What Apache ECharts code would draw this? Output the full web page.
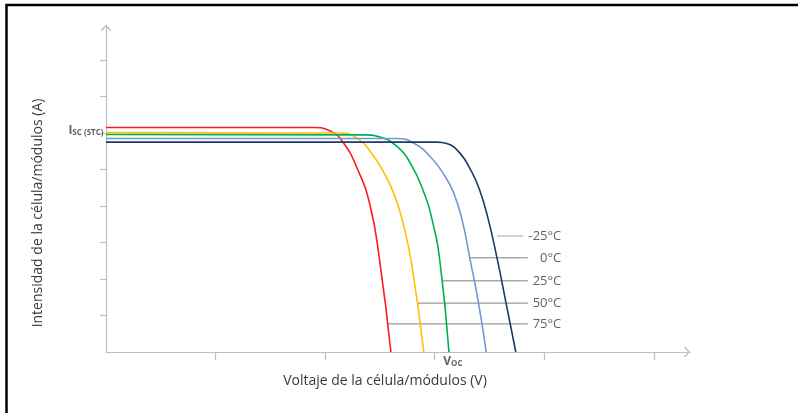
<!DOCTYPE html>
<html>
<head>
<meta charset="utf-8">
<script src="https://cdn.jsdelivr.net/npm/echarts@6/dist/echarts.min.js"></script>
<style>
  html, body { margin: 0; padding: 0; background: #fff; }
  #chart { width: 798px; height: 413px; }
</style>
</head>
<body>
<div id="chart"></div>
<script>
// Curvas I-V para distintas temperaturas (unidades arbitrarias: x = tensión, y = intensidad)
const curveRed = [
  [0, 6.15], [1.89, 6.15], [2.05, 6.05], [2.16, 5.76], [2.29, 5.05],
  [2.41, 4.02], [2.50, 2.45], [2.60, 0]
]
const curveYellow = [
  [0, 6.01], [2.14, 6.0], [2.30, 5.84], [2.42, 5.46], [2.53, 4.95],
  [2.63, 4.32], [2.71, 3.55], [2.79, 2.40], [2.90, 0]
]
const curveGreen = [
  [0, 5.96], [2.35, 5.95], [2.50, 5.89], [2.66, 5.62], [2.78, 5.16],
  [2.89, 4.46], [2.98, 3.58], [3.05, 2.42], [3.13, 0]
]
const curveLightBlue = [
  [0, 5.85], [2.66, 5.85], [2.81, 5.72], [2.96, 5.35], [3.08, 4.88],
  [3.17, 4.38], [3.25, 3.62], [3.32, 2.58], [3.40, 1.34], [3.47, 0]
]
const curveDarkBlue = [
  [0, 5.75], [3.02, 5.75], [3.11, 5.71], [3.23, 5.45], [3.33, 4.98],
  [3.41, 4.44], [3.49, 3.62], [3.57, 2.56], [3.65, 1.36], [3.74, 0]
]

// Etiquetas de temperatura y sus líneas guía
const tempLabels = ['-25°C', '0°C', '25°C', '50°C', '75°C']
const leaderY = [3.18, 2.58, 1.95, 1.34, 0.77]
const leaderStartX = [3.57, 3.32, 3.07, 2.84, 2.57]
const leaderEndX = [3.81, 3.85, 3.85, 3.85, 3.85]
const labelRightX = 4.16

// Marcas de ejes
const xTicks = [1, 2, 3, 4, 5]
const yTicks = [1, 2, 3, 4, 5, 6, 7, 8]
const iscValue = 6.06
const vocValue = 3.13

const chart = echarts.init(document.getElementById('chart'))

const FONT = 'Open Sans'
const AXIS_COLOR = '#bfbfbf'
const TEXT_COLOR = '#3a3a3a'
const chevron = 'path://M0,5 L5.5,0 L11,5 L10,6 L5.5,2 L1,6 Z'

const curveSeries = [
  { data: curveRed, color: '#ff1a1a' },
  { data: curveYellow, color: '#ffc000' },
  { data: curveGreen, color: '#00b050' },
  { data: curveLightBlue, color: '#6f9ad6' },
  { data: curveDarkBlue, color: '#1f3a68' }
].map(c => ({
  type: 'line',
  data: c.data,
  symbol: 'none',
  smooth: 0.5,
  silent: true,
  lineStyle: { color: c.color, width: 1.6 },
  z: 3
}))

const leaderSeries = tempLabels.map((t, i) => ({
  type: 'line',
  data: [[leaderStartX[i], leaderY[i]], [leaderEndX[i], leaderY[i]]],
  symbol: 'none',
  silent: true,
  lineStyle: { color: i === 0 ? '#a6a6a6' : '#7f7f7f', width: 1 },
  z: 2
}))

const subRich = {
  a: { fontFamily: FONT, fontWeight: 'bold', fontSize: 12, color: TEXT_COLOR, verticalAlign: 'bottom' },
  b: { fontFamily: FONT, fontWeight: 'bold', fontSize: 8, color: TEXT_COLOR, verticalAlign: 'bottom', padding: [3, 0, 0, 0] }
}

const labelSeries = {
  type: 'scatter',
  symbolSize: 1,
  silent: true,
  itemStyle: { color: 'transparent' },
  data: tempLabels.map((t, i) => ({
    value: [labelRightX, leaderY[i]],
    label: {
      show: true,
      position: 'left',
      distance: 0,
      formatter: t,
      color: TEXT_COLOR,
      fontFamily: FONT,
      fontSize: 13
    }
  })).concat([
    {
      value: [0, iscValue],
      label: { show: true, position: 'left', distance: 2, formatter: '{a|I}{b|SC (STC)}', rich: subRich }
    },
    {
      value: [vocValue, 0],
      label: { show: true, position: 'bottom', distance: 3, offset: [4, 0], formatter: '{a|V}{b|OC}', rich: subRich }
    }
  ]),
  z: 4
}

chart.setOption({
  animation: false,
  backgroundColor: '#fff',
  grid: { left: 106, right: 108, top: 25, bottom: 61 },
  xAxis: {
    type: 'value',
    min: 0,
    max: 5.33,
    interval: 1,
    axisLine: {
      show: true,
      lineStyle: { color: AXIS_COLOR, width: 1.2 },
      symbol: ['none', chevron],
      symbolSize: [12, 6],
      symbolOffset: [0, -3]
    },
    axisTick: { show: true, length: 8, lineStyle: { color: AXIS_COLOR, width: 1.2 }, customValues: xTicks },
    axisLabel: { show: false },
    splitLine: { show: false }
  },
  yAxis: {
    type: 'value',
    min: 0,
    max: 8.96,
    interval: 1,
    axisLine: {
      show: true,
      lineStyle: { color: AXIS_COLOR, width: 1.2 },
      symbol: ['none', chevron],
      symbolSize: [12, 6],
      symbolOffset: [0, -3]
    },
    axisTick: { show: true, length: 6, lineStyle: { color: AXIS_COLOR, width: 1.2 }, customValues: yTicks },
    axisLabel: { show: false },
    splitLine: { show: false }
  },
  graphic: [
    {
      type: 'polyline',
      shape: { points: [[6.5, 413], [6.5, 5], [798, 5]] },
      style: { stroke: '#000', lineWidth: 2.5, fill: null },
      silent: true
    },
    {
      type: 'text',
      x: 385,
      y: 381,
      style: {
        text: 'Voltaje de la célula/módulos (V)',
        fill: TEXT_COLOR,
        font: '14px "Open Sans"',
        textAlign: 'center',
        textVerticalAlign: 'middle'
      }
    },
    {
      type: 'text',
      x: 38,
      y: 213,
      rotation: Math.PI / 2,
      style: {
        text: 'Intensidad de la célula/módulos (A)',
        fill: TEXT_COLOR,
        font: '14px "Open Sans"',
        textAlign: 'center',
        textVerticalAlign: 'middle'
      }
    }
  ],
  series: curveSeries.concat(leaderSeries, [labelSeries])
})
</script>
</body>
</html>
